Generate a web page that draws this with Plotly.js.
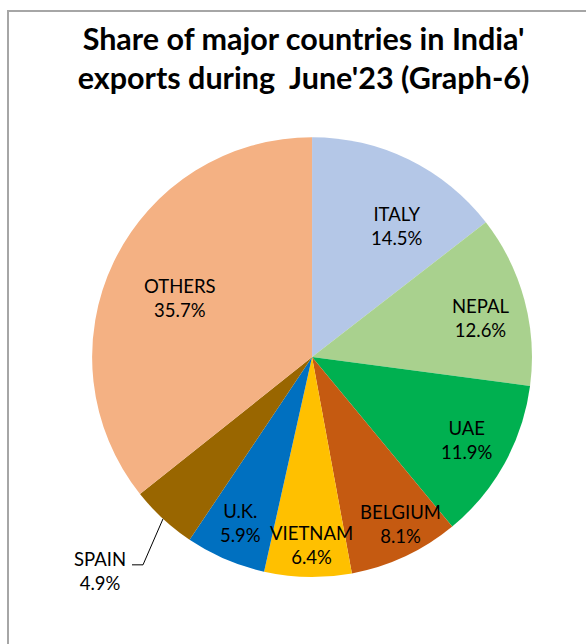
<!DOCTYPE html>
<html><head><meta charset="utf-8">
<script src="https://cdn.plot.ly/plotly-3.0.1.min.js"></script>
<style>
body{margin:0;padding:0;background:#fff;}
#frame{position:absolute;left:7px;top:10px;width:640px;height:700px;border:2px solid #a6a6a6;box-sizing:border-box;}
#chart{position:absolute;left:0;top:0;width:586px;height:644px;}
</style></head>
<body>
<div id="frame"></div>
<div id="chart"></div>
<script>
const countries = ["ITALY","NEPAL","UAE","BELGIUM","VIETNAM","U.K.","SPAIN","OTHERS"];
const shares = [14.5,12.6,11.9,8.1,6.4,5.9,4.9,35.7];
const colors = ["#B4C7E7","#A9D18E","#00B050","#C55A11","#FFC000","#0070C0","#996600","#F4B183"];
const titleText = "Share of major countries in India'<br>exports during  June'23 (Graph-6)";
const outsideLabel = "SPAIN";

// label placement style (fraction of radius, angle nudge in degrees)
const labelRadius = [0.71, 0.79, 0.80, 0.86, 0.855, 0.82, 0, 0.655];
const labelNudge  = [7, 2, -1, -3, -1, 0, 0, -1.7];

const W = 586, H = 644;
const dom = {x: [0.157, 0.908], y: [0.104, 0.787]};
const FONT = "Lato, 'Open Sans', sans-serif";
const LSIZE = 18.5;

const data = [{
  type: "pie",
  labels: countries,
  values: shares,
  sort: false,
  direction: "clockwise",
  rotation: 0,
  marker: {colors: colors, line: {width: 0}},
  textposition: "none",
  domain: dom,
  hoverinfo: "none",
  showlegend: false
}];

const total = shares.reduce((a, b) => a + b, 0);
const cx = (dom.x[0] + dom.x[1]) / 2, cy = (dom.y[0] + dom.y[1]) / 2;
const rPx = Math.min((dom.x[1] - dom.x[0]) * W, (dom.y[1] - dom.y[0]) * H) / 2;
const fmt = v => v.toFixed(1) + "%";

const annotations = [];
const shapes = [];
let cum = 0;
countries.forEach((c, i) => {
  const mid = (cum + shares[i] / 2) / total;
  cum += shares[i];
  if (c === outsideLabel) {
    const ang = mid * 2 * Math.PI;
    const ex = cx + (rPx * Math.sin(ang)) / W;
    const ey = cy + (rPx * Math.cos(ang)) / H;
    const kx = ex - 20 / W, ky = ey - 46 / H;
    const hx = kx - 11 / W;
    shapes.push({type: "path", xref: "paper", yref: "paper",
                 path: `M ${ex} ${ey} L ${kx} ${ky} L ${hx} ${ky}`,
                 line: {color: "#000", width: 1}});
    annotations.push({xref: "paper", yref: "paper", x: hx - 32 / W, y: ky - 6 / H,
                      text: c + "<br>" + fmt(shares[i]), showarrow: false,
                      xanchor: "center", yanchor: "middle",
                      font: {family: FONT, size: LSIZE, color: "#000"}});
  } else {
    const ang = (mid * 360 + labelNudge[i]) * Math.PI / 180;
    const r = rPx * labelRadius[i];
    annotations.push({xref: "paper", yref: "paper",
                      x: cx + r * Math.sin(ang) / W, y: cy + r * Math.cos(ang) / H,
                      text: c + "<br>" + fmt(shares[i]), showarrow: false,
                      xanchor: "center", yanchor: "middle",
                      font: {family: FONT, size: LSIZE, color: "#000"}});
  }
});

const layout = {
  width: W, height: H,
  margin: {l: 0, r: 0, t: 0, b: 0},
  paper_bgcolor: "rgba(0,0,0,0)",
  title: {text: titleText, x: 0.518, xanchor: "center", y: 0.923, yanchor: "middle",
          font: {family: FONT, size: 30.5, color: "#000", weight: "bold"}},
  shapes: shapes,
  annotations: annotations,
  showlegend: false
};
Plotly.newPlot("chart", data, layout, {staticPlot: true});
</script>
</body></html>
